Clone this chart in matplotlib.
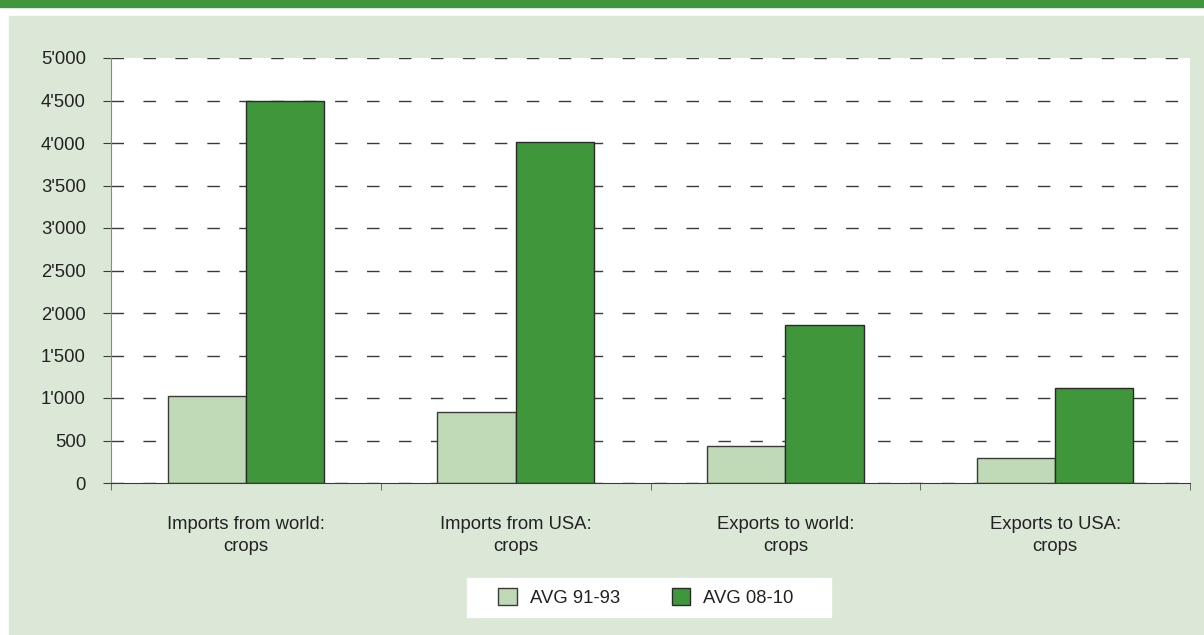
import matplotlib.pyplot as plt
import matplotlib.patches as mpatches
import numpy as np
from matplotlib.ticker import FuncFormatter

categories = ["Imports from world:\ncrops", "Imports from USA:\ncrops",
              "Exports to world:\ncrops", "Exports to USA:\ncrops"]
avg_91_93 = [1025, 832, 437, 300]
avg_08_10 = [4492, 4015, 1862, 1120]
series_names = ["AVG 91-93", "AVG 08-10"]

light = "#c0d9b7"
dark = "#40963b"
panel = "#dce8d7"

plt.rcParams["font.family"] = ["Liberation Sans", "DejaVu Sans"]
fs = 13.3

fig = plt.figure(figsize=(12.04, 6.35), dpi=100)
W, H = 1204, 635

# top band, panel background, legend box
fig.patches.append(mpatches.Rectangle((0, 1 - 7 / H), 1, 7 / H, transform=fig.transFigure,
                                      color=dark, zorder=-2))
fig.patches.append(mpatches.Rectangle((9 / W, 0), 1 - 9 / W, 1 - 16 / H, transform=fig.transFigure,
                                      color=panel, zorder=-2))
fig.patches.append(mpatches.Rectangle((467 / W, 1 - 617 / H), (831 - 467) / W, 39 / H,
                                      transform=fig.transFigure, color="white", zorder=-1))

ax = fig.add_axes([111 / W, 1 - 483 / H, (1190 - 111) / W, (483 - 58) / H])
ax.set_facecolor("white")

x = np.arange(len(categories))
w = 0.29
ax.bar(x - w / 2, avg_91_93, w, color=light, edgecolor="#3a3a3a", linewidth=1, zorder=3,
       label=series_names[0])
ax.bar(x + w / 2, avg_08_10, w, color=dark, edgecolor="#2a2a2a", linewidth=1, zorder=3,
       label=series_names[1])

ax.set_xlim(-0.5, len(categories) - 0.5)
ax.set_ylim(0, 5000)
ax.set_yticks(np.arange(0, 5001, 500))
ax.yaxis.set_major_formatter(FuncFormatter(lambda v, p: f"{int(v):,}".replace(",", "'")))
ax.yaxis.grid(True, color="#3a3a3a", linestyle=(0, (9, 14)), linewidth=1, zorder=1)
ax.tick_params(axis="y", length=6, color="#3a3a3a", labelsize=fs, pad=12, labelcolor="#222222")

ax.set_xticks(x)
ax.set_xticklabels(categories, fontsize=fs, color="#222222", linespacing=1.35)
ax.set_xticks(np.arange(-0.5, len(categories)), minor=True)
ax.tick_params(axis="x", which="major", length=0, pad=24)
ax.tick_params(axis="x", which="minor", length=5, color="#555555")

for s in ["top", "right"]:
    ax.spines[s].set_visible(False)
ax.spines["left"].set_color("#888888")
ax.spines["bottom"].set_color("#3a3a3a")
ax.spines["bottom"].set_zorder(4)

leg = fig.legend(loc="center", bbox_to_anchor=(646 / W, 1 - 597.5 / H), ncol=2,
                 frameon=False, fontsize=fs, handlelength=1.0,
                 handleheight=1.0, columnspacing=2.8, handletextpad=0.7)
for t in leg.get_texts():
    t.set_color("#222222")

fig.savefig("out.png", dpi=100)
